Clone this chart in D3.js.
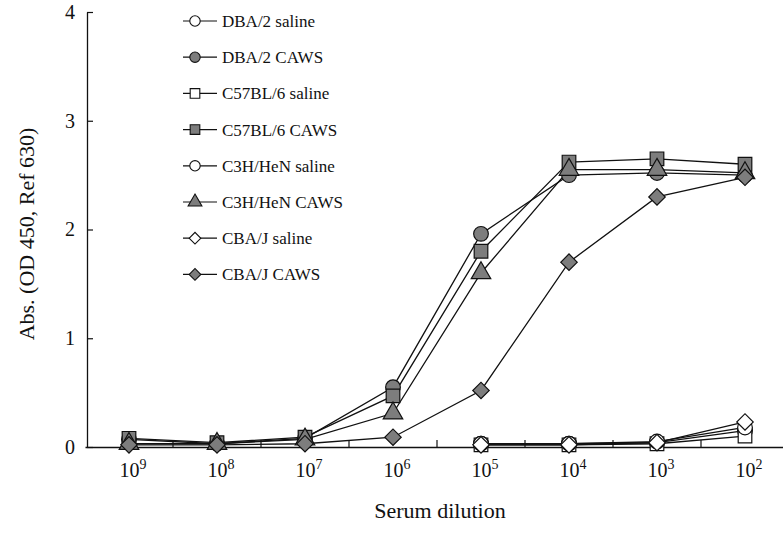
<!DOCTYPE html>
<html>
<head>
<meta charset="utf-8">
<script src="https://cdn.jsdelivr.net/npm/d3@7"></script>
<style>
  body { margin: 0; background: #fff; }
  text { font-family: "Liberation Serif", "Times New Roman", serif; fill: #111; }
</style>
</head>
<body>
<script>
"use strict";

// serum dilutions (exponent of 10), left to right
var exponents = ["9", "8", "7", "6", "5", "4", "3", "2"];

// absorbance readings per group, null where not measured
var dbaSaline  = [null, null, null, null, 0.03, 0.03, 0.04, 0.15];
var dbaCaws    = [0.07, 0.03, 0.08, 0.55, 1.96, 2.50, 2.52, 2.50];
var c57Saline  = [null, null, null, null, 0.02, 0.02, 0.03, 0.10];
var c57Caws    = [0.08, 0.04, 0.09, 0.47, 1.80, 2.62, 2.65, 2.60];
var c3hSaline  = [null, null, null, null, 0.03, 0.03, 0.05, 0.18];
var c3hCaws    = [0.03, 0.03, 0.07, 0.31, 1.60, 2.55, 2.55, 2.52];
var cbaSaline  = [null, null, null, null, 0.02, 0.02, 0.04, 0.23];
var cbaCaws    = [0.02, 0.02, 0.03, 0.09, 0.52, 1.70, 2.30, 2.48];

var seriesNames = ["DBA/2 saline", "DBA/2 CAWS", "C57BL/6 saline", "C57BL/6 CAWS",
                   "C3H/HeN saline", "C3H/HeN CAWS", "CBA/J saline", "CBA/J CAWS"];
var seriesValues = [dbaSaline, dbaCaws, c57Saline, c57Caws, c3hSaline, c3hCaws, cbaSaline, cbaCaws];
var seriesShape = ["circle", "circle", "square", "square", "circle", "triangle", "diamond", "diamond"];
var seriesFilled = [false, true, false, true, false, true, false, true];

var yTicks = [0, 1, 2, 3, 4];

var W = 783, H = 533;
var gray = "#7d7d7d";

var svg = d3.select("body").append("svg")
  .attr("width", W)
  .attr("height", H);

var x = d3.scaleBand().domain(exponents).range([85, 789]);
var y = d3.scaleLinear().domain([0, 4]).range([447, 12]);

// symbol generator, diamond = rotated square
function symbolPath(shape, size) {
  var t = shape === "circle" ? d3.symbolCircle
        : shape === "triangle" ? d3.symbolTriangle
        : d3.symbolSquare;
  return d3.symbol().type(t).size(size)();
}
function symbolRotate(shape) {
  return shape === "diamond" ? " rotate(45)" : "";
}
var sizes = { circle: 170, square: 185, triangle: 165, diamond: 135 };

// y axis, ticks pointing inward
var yAxis = svg.append("g")
  .attr("transform", "translate(87,0)")
  .call(d3.axisLeft(y).tickValues(yTicks).tickSizeInner(-6).tickSizeOuter(0).tickPadding(12)
    .tickFormat(d3.format("d")));
yAxis.selectAll("text").style("font-size", "20px").attr("font-family", "Liberation Serif");
yAxis.select(".domain").attr("stroke", "#111").attr("stroke-width", 1.3);
yAxis.selectAll(".tick line").attr("stroke", "#111").attr("stroke-width", 1.2);

// x axis line + labels
var xAxis = svg.append("g")
  .attr("transform", "translate(0,447)")
  .call(d3.axisBottom(x).tickSize(0).tickPadding(16).tickFormat(""));
xAxis.select(".domain").attr("stroke", "#111").attr("stroke-width", 1.3);
xAxis.selectAll(".tick text")
  .style("font-size", "20px")
  .attr("dx", 4)
  .each(function(d) {
    var t = d3.select(this);
    t.append("tspan").text("10");
    t.append("tspan").attr("dy", -8).style("font-size", "14px").text(d);
  });

// boundary ticks between dilutions, pointing up
svg.append("g").selectAll("line")
  .data(exponents.slice(1))
  .join("line")
    .attr("x1", function(d) { return x(d); })
    .attr("x2", function(d) { return x(d); })
    .attr("y1", 447)
    .attr("y2", 440)
    .attr("stroke", "#111")
    .attr("stroke-width", 1.2);

// axis titles
svg.append("text")
  .attr("transform", "translate(34,234) rotate(-90)")
  .attr("text-anchor", "middle")
  .style("font-size", "22px")
  .text("Abs. (OD 450, Ref 630)");

svg.append("text")
  .attr("x", 440)
  .attr("y", 518)
  .attr("text-anchor", "middle")
  .style("font-size", "22px")
  .text("Serum dilution");

// lines
var line = d3.line()
  .defined(function(d) { return d != null; })
  .x(function(d, i) { return x(exponents[i]) + x.bandwidth() / 2; })
  .y(function(d) { return y(d); });

var plot = svg.append("g");
plot.selectAll("path.series")
  .data(seriesValues)
  .join("path")
    .attr("class", "series")
    .attr("d", line)
    .attr("fill", "none")
    .attr("stroke", "#111")
    .attr("stroke-width", 1.3);

// markers
seriesValues.forEach(function(vals, s) {
  var pts = vals.map(function(v, i) { return { v: v, i: i }; })
    .filter(function(p) { return p.v != null; });
  plot.append("g").selectAll("path")
    .data(pts)
    .join("path")
      .attr("d", symbolPath(seriesShape[s], sizes[seriesShape[s]]))
      .attr("transform", function(p) {
        return "translate(" + (x(exponents[p.i]) + x.bandwidth() / 2) + "," + y(p.v) + ")" + symbolRotate(seriesShape[s]);
      })
      .attr("fill", seriesFilled[s] ? gray : "#fff")
      .attr("stroke", "#111")
      .attr("stroke-width", 1.2);
});

// legend
var legend = svg.append("g");
var legItem = legend.selectAll("g")
  .data(seriesNames)
  .join("g")
    .attr("transform", function(d, i) { return "translate(0," + (21 + i * 36.2) + ")"; });

legItem.append("line")
  .attr("x1", 183).attr("x2", 217)
  .attr("stroke", "#111").attr("stroke-width", 1.2);

legItem.append("path")
  .attr("d", function(d, i) { return symbolPath(seriesShape[i], sizes[seriesShape[i]] * 0.5); })
  .attr("transform", function(d, i) { return "translate(195,0)" + symbolRotate(seriesShape[i]); })
  .attr("fill", function(d, i) { return seriesFilled[i] ? gray : "#fff"; })
  .attr("stroke", "#111")
  .attr("stroke-width", 1.1);

legItem.append("text")
  .attr("x", 222)
  .attr("y", 6)
  .style("font-size", "17px")
  .text(function(d) { return d; });
</script>
</body>
</html>
